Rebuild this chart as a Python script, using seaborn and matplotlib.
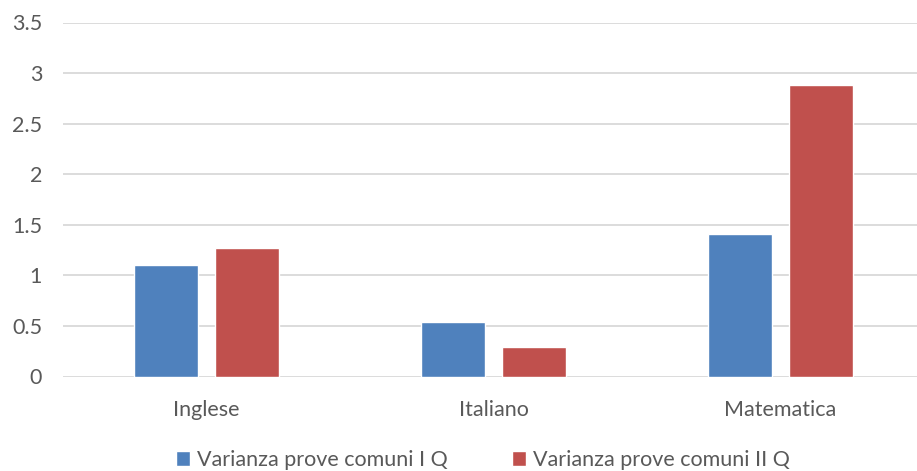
import matplotlib
matplotlib.use("Agg")
import matplotlib.pyplot as plt
import seaborn as sns
import pandas as pd

subjects = ["Inglese", "Italiano", "Matematica"]
series_names = ["Varianza prove comuni I Q", "Varianza prove comuni II Q"]
var_q1 = [1.10, 0.54, 1.41]
var_q2 = [1.27, 0.29, 2.88]
y_ticks = [0, 0.5, 1, 1.5, 2, 2.5, 3, 3.5]
y_tick_labels = ["0", "0.5", "1", "1.5", "2", "2.5", "3", "3.5"]

df = pd.DataFrame({
    "materia": subjects * 2,
    "serie": [series_names[0]] * 3 + [series_names[1]] * 3,
    "valore": var_q1 + var_q2,
})

sns.set_theme(style="white")
plt.rcParams["font.family"] = ["Lato", "DejaVu Sans"]

colors = ["#4F81BD", "#C0504D"]
text_color = "#595959"
fs = 15.5

fig = plt.figure(figsize=(9.17, 4.71), dpi=100)
ax = fig.add_axes([63 / 917, 1 - 376.5 / 471, 861 / 917, (376.5 - 22.5) / 471])

sns.barplot(data=df, x="materia", y="valore", hue="serie", order=subjects,
            hue_order=series_names, palette=colors, width=0.566, gap=0.212,
            saturation=1, ax=ax, legend=True)

ax.set_ylim(0, 3.5)
ax.set_xlim(-0.5, 2.5)
ax.set_yticks(y_ticks)
ax.set_yticklabels(y_tick_labels)
ax.yaxis.grid(True, color="#D9D9D9", linewidth=1.3)
ax.set_axisbelow(True)
for s in ax.spines.values():
    s.set_visible(False)
ax.set_xlabel("")
ax.set_ylabel("")
ax.tick_params(axis="both", length=0, labelsize=fs, colors=text_color)
ax.tick_params(axis="y", pad=15)
ax.tick_params(axis="x", pad=17)
for lbl in ax.get_yticklabels():
    lbl.set_horizontalalignment("right")

handles, labels = ax.get_legend_handles_labels()
ax.get_legend().remove()
leg = fig.legend(handles, labels, loc="center", bbox_to_anchor=(483 / 917, 1 - 460 / 471),
                 ncol=2, frameon=False, fontsize=fs, handlelength=0.65, handleheight=0.65,
                 handletextpad=0.3, columnspacing=3.0)
for t in leg.get_texts():
    t.set_color(text_color)

fig.savefig("out.png", dpi=100, facecolor="white")
